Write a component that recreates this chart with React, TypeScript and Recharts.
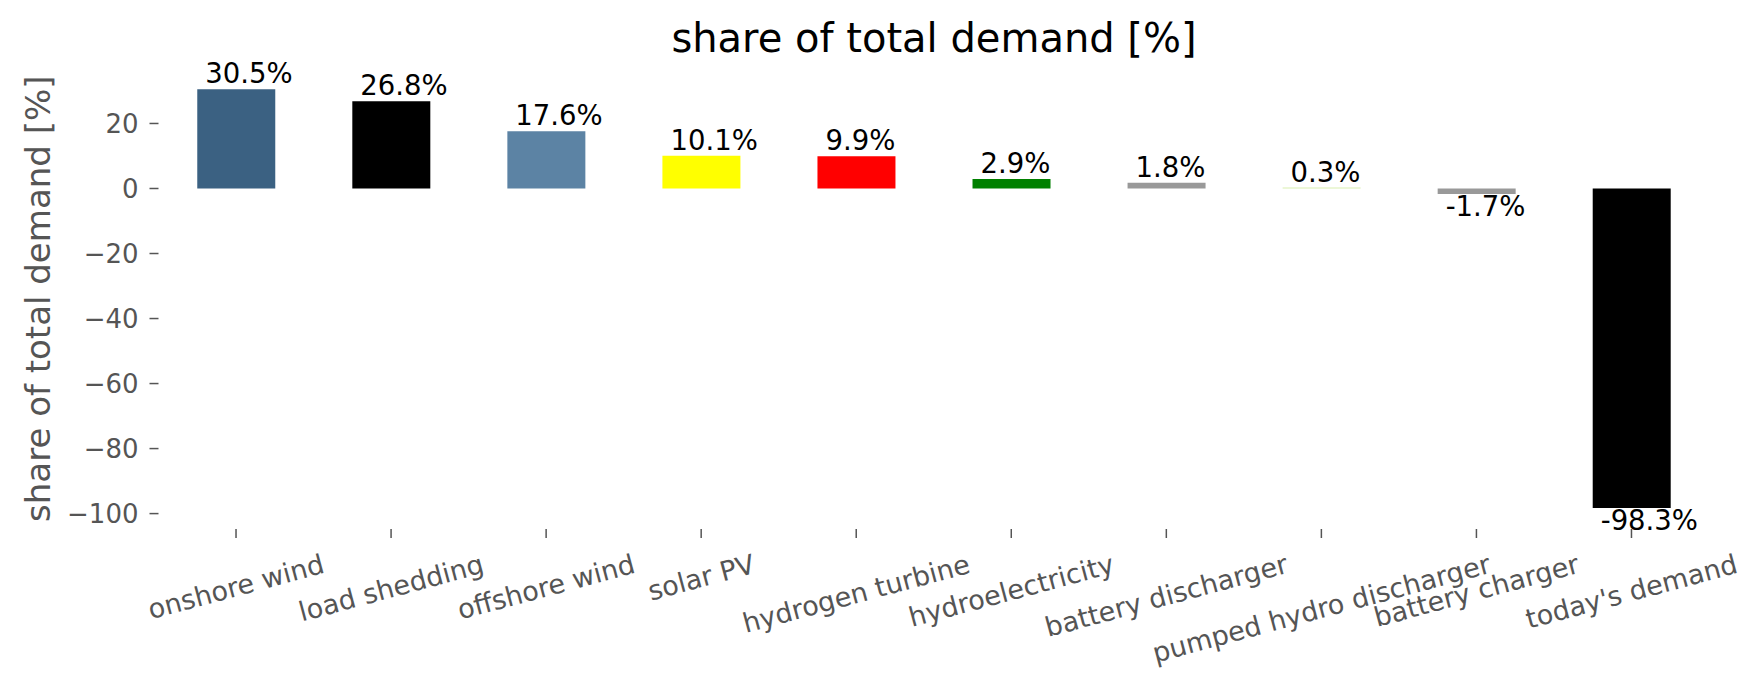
import React from "react";
import { BarChart, Bar, XAxis, YAxis, Cell, LabelList } from "recharts";

const categories = [
  "onshore wind",
  "load shedding",
  "offshore wind",
  "solar PV",
  "hydrogen turbine",
  "hydroelectricity",
  "battery discharger",
  "pumped hydro discharger",
  "battery charger",
  "today's demand",
];
const shares = [30.5, 26.8, 17.6, 10.1, 9.9, 2.9, 1.8, 0.3, -1.7, -98.3];
const barColors = [
  "#3b6182",
  "#000000",
  "#5c83a4",
  "#ffff00",
  "#ff0000",
  "#008000",
  "#999999",
  "#d9efb0",
  "#999999",
  "#000000",
];
const yTicks = [-100, -80, -60, -40, -20, 0, 20];

const data = categories.map((name, i) => ({ name, share: shares[i] }));

const W = 1763;
const H = 689;
const FONT = '"DejaVu Sans", sans-serif';
const GREY = "#555555";

let ctx: CanvasRenderingContext2D | null = null;
const measure = (s: string, size: number) => {
  if (!ctx) ctx = document.createElement("canvas").getContext("2d");
  if (!ctx) return s.length * size * 0.6;
  ctx.font = `${size}px "DejaVu Sans"`;
  return ctx.measureText(s).width;
};

// matplotlib-like rotated label: bbox centred on tick, top just under it
const RotatedTick = (props: any) => {
  const { x, y, payload } = props;
  const size = 27;
  const rad = (15 * Math.PI) / 180;
  const w = measure(payload.value, size);
  const h = size * 1.17;
  const boxH = w * Math.sin(rad) + h * Math.cos(rad);
  const cy = y + boxH / 2;
  return (
    <text
      x={x}
      y={cy}
      textAnchor="middle"
      dominantBaseline="central"
      transform={`rotate(-15, ${x}, ${cy})`}
      fill={GREY}
      fontSize={size}
      fontFamily={FONT}
    >
      {payload.value}
    </text>
  );
};

const ValueLabel = (props: any) => {
  const vb = props.viewBox ?? props;
  const { x, y, height } = vb;
  const v = Number(props.value);
  const top = Math.min(y, y + height);
  const bottom = Math.max(y, y + height);
  const ty = v >= 0 ? top - 6 : bottom + 22;
  return (
    <text x={x + 8} y={ty} fontSize={27.5} fontFamily={FONT} fill="#000">
      {v.toFixed(1)}%
    </text>
  );
};

const App = () => {
  return (
    <div style={{ position: "absolute", left: 0, top: 0, width: W, height: H, background: "#fff" }}>
      <BarChart
        width={W}
        height={H}
        data={data}
        margin={{ top: 68.4, right: 54, left: 0, bottom: 0 }}
        barCategoryGap="25%"
      >
        <XAxis
          dataKey="name"
          height={160}
          interval={0}
          axisLine={false}
          tickLine={{ stroke: GREY, strokeWidth: 1.5 }}
          tickSize={9}
          tickMargin={10}
          tick={(p: any) => <RotatedTick {...p} />}
        />
        <YAxis
          type="number"
          domain={[-104.74, 36.94]}
          ticks={yTicks}
          allowDataOverflow
          width={158.5}
          axisLine={false}
          tickLine={{ stroke: GREY, strokeWidth: 1.5 }}
          tickSize={9}
          tickMargin={11}
          tick={{ fill: GREY, fontSize: 26, fontFamily: FONT }}
          tickFormatter={(v: number) => String(v).replace("-", "\u2212")}
        />
        <Bar dataKey="share" isAnimationActive={false}>
          {data.map((d, i) => (
            <Cell key={d.name} fill={barColors[i]} />
          ))}
          <LabelList dataKey="share" content={ValueLabel} />
        </Bar>
      </BarChart>
      <svg
        width={W}
        height={H}
        style={{ position: "absolute", left: 0, top: 0, pointerEvents: "none" }}
      >
        <text x={934} y={52} textAnchor="middle" fontSize={40} fontFamily={FONT} fill="#000">
          share of total demand [%]
        </text>
        <text
          x={50}
          y={298.7}
          textAnchor="middle"
          fontSize={34}
          fontFamily={FONT}
          fill={GREY}
          transform="rotate(-90, 50, 298.7)"
        >
          share of total demand [%]
        </text>
      </svg>
    </div>
  );
};

export default App;
